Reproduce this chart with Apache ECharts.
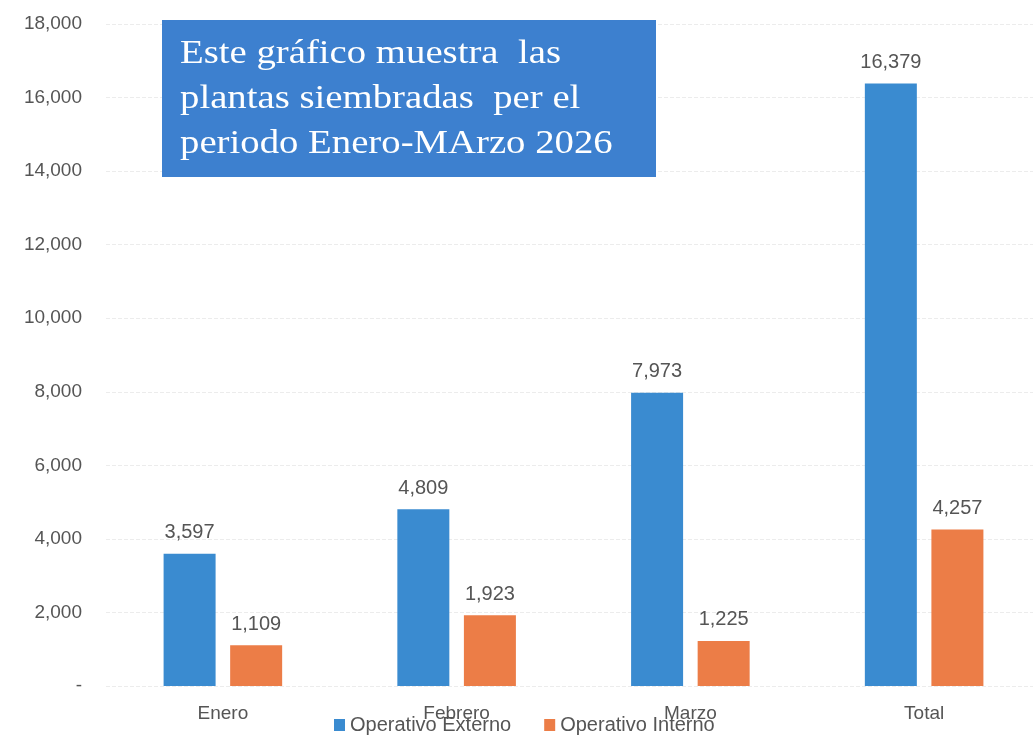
<!DOCTYPE html>
<html>
<head>
    <meta charset="utf-8" />
    <title>Plantas siembradas Enero-Marzo 2026</title>
    <script src="https://cdn.jsdelivr.net/npm/echarts@6/dist/echarts.min.js"></script>
    <style type="text/css">
        html,
        body {
            width: 100%;
            height: 100%;
            margin: 0;
            overflow: hidden;
            background: #fff;
        }

        #chart {
            width: 1045px;
            height: 752px;
        }
    </style>
</head>
<body>
    <div id="chart"></div>
    <script>
        var categories = ['Enero', 'Febrero', 'Marzo', 'Total'];
        var externo = [3597, 4809, 7973, 16379];
        var interno = [1109, 1923, 1225, 4257];
        var seriesNames = ['Operativo Externo', 'Operativo Interno'];
        var boxLines = ['Este gráfico muestra  las', 'plantas siembradas  per el', 'periodo Enero-MArzo 2026'];

        function fmt(v) {
            if (v === 0) return '-';
            return v.toLocaleString('en-US');
        }

        // the chart is a little wider than the window so the last band runs past the edge
        var chart = echarts.init(document.getElementById('chart'));
        var sans = '"Liberation Sans", Arial, sans-serif';

        var labelStyle = {
            show: true,
            position: 'top',
            distance: 11,
            color: '#555',
            fontSize: 20,
            fontFamily: sans,
            formatter: function (p) { return fmt(p.value); }
        };

        var option = {
            backgroundColor: '#fff',
            animation: false,
            grid: {
                left: 106,
                width: 935,
                top: 24,
                bottom: 66,
                containLabel: false
            },
            legend: {
                data: seriesNames,
                top: 710,
                left: 329,
                itemWidth: 11,
                itemHeight: 12,
                itemGap: 33,
                icon: 'rect',
                textStyle: { color: '#555', fontSize: 20, fontFamily: sans }
            },
            xAxis: {
                type: 'category',
                data: categories,
                axisLine: { show: false },
                axisTick: { show: false },
                axisLabel: {
                    color: '#555',
                    fontSize: 19,
                    fontFamily: sans,
                    margin: 18
                }
            },
            yAxis: {
                type: 'value',
                min: 0,
                max: 18000,
                interval: 2000,
                axisLine: { show: false },
                axisTick: { show: false },
                splitLine: { lineStyle: { color: '#ececec', type: 'dashed' } },
                axisLabel: {
                    color: '#555',
                    fontSize: 19,
                    fontFamily: sans,
                    margin: 24,
                    formatter: fmt
                }
            },
            series: [
                {
                    name: seriesNames[0],
                    type: 'bar',
                    data: externo,
                    barWidth: 52,
                    barGap: '28%',
                    itemStyle: { color: '#3a8bd0' },
                    label: labelStyle
                },
                {
                    name: seriesNames[1],
                    type: 'bar',
                    data: interno,
                    barWidth: 52,
                    itemStyle: { color: '#ec7d47' },
                    label: labelStyle
                }
            ],
            graphic: [
                {
                    type: 'group',
                    left: 162,
                    top: 20,
                    z: 100,
                    children: [
                        {
                            type: 'rect',
                            z: 100,
                            shape: { x: 0, y: 0, width: 494, height: 157 },
                            style: { fill: '#3d80cf' }
                        },
                        {
                            type: 'text',
                            z: 101,
                            x: 18,
                            y: 12,
                            scaleX: 1.14,
                            style: {
                                text: boxLines.join('\n'),
                                fill: '#fff',
                                font: '34px "Liberation Serif", "DejaVu Serif", serif',
                                lineHeight: 45
                            }
                        }
                    ]
                }
            ]
        };

        chart.setOption(option);
    </script>
</body>
</html>
